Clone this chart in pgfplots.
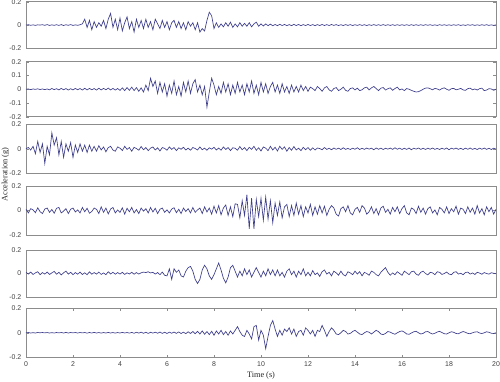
\documentclass[border=0pt]{standalone}
\usepackage{fontspec}
\setmainfont{Liberation Serif}
\setsansfont{Liberation Sans}
\usepackage{pgfplots}
\usepackage{pgfplotstable}
\pgfplotsset{compat=1.18}
\definecolor{sig}{RGB}{62,62,140}
\pgfplotstableread{
t p1 p2 p3 p4 p5 p6
0.0 0 0 0 .01 .01 0
0.1 .003 .002 .01 -.02 -.005 .002
0.2 -.002 -.003 -.01 .015 .012 -.002
0.3 .002 .002 .02 .005 -.008 .001
0.4 -.003 -.001 -.04 -.018 .005 -.002
0.5 .002 .003 .06 .022 .015 .002
0.6 0 -.002 -.03 -.01 -.01 0
0.7 .003 .002 .04 -.025 .008 .002
0.8 -.002 -.003 -.12 .012 -.005 -.001
0.9 .004 .002 .02 .02 .012 .002
1.0 -.003 -.004 -.05 -.015 -.008 -.002
1.1 .002 .005 .13 .008 .005 .001
1.2 -.002 -.003 .03 -.022 .018 -.002
1.3 .003 .004 .09 .018 -.006 .002
1.4 -.003 -.005 -.05 .025 .01 -.001
1.5 .004 .006 .06 -.02 -.012 .002
1.6 -.004 -.004 -.07 -.005 .006 -.002
1.7 .003 .005 .04 .015 .02 .003
1.8 -.002 -.006 -.02 -.025 -.005 -.002
1.9 .004 .004 .05 .01 .01 .002
2.0 -.003 -.005 -.07 .02 -.01 -.001
2.1 .002 .006 .03 -.012 .008 .002
2.2 -.002 -.004 -.03 .005 -.006 -.002
2.3 .003 .005 .04 -.02 .012 .002
2.4 .01 -.006 -.02 .025 -.008 -.001
2.5 .05 .007 .03 -.01 .006 .002
2.6 -.02 -.005 -.03 .018 -.01 -.003
2.7 .04 .006 .03 -.022 .014 .002
2.8 -.04 -.004 -.02 -.008 -.006 -.002
2.9 .03 .005 .02 .02 .008 .003
3.0 -.02 -.006 -.02 .01 -.005 -.002
3.1 .02 .007 .025 -.025 .012 .002
3.2 -.01 -.005 -.01 .03 -.008 -.003
3.3 .04 .006 .015 -.015 .005 .002
3.4 -.03 -.004 -.025 .02 -.01 -.002
3.5 .05 .008 .01 -.028 .015 .003
3.6 .1 -.005 .02 .012 -.004 -.002
3.7 -.02 .006 -.01 .025 .01 .002
3.8 .05 -.006 -.02 -.02 -.006 -.003
3.9 -.04 .005 .015 .005 .008 .002
4.0 .06 -.008 .005 -.015 -.005 -.002
4.1 -.05 .01 -.015 .022 .01 .003
4.2 .02 -.01 .02 -.03 -.008 -.002
4.3 .07 .012 -.005 .018 .006 .002
4.4 -.03 -.008 .01 -.01 -.004 -.003
4.5 .03 .015 -.02 .025 .01 .003
4.6 -.06 -.01 .012 -.02 -.006 -.004
4.7 .05 .012 .002 .008 .008 .004
4.8 -.02 -.015 -.012 -.025 -.005 -.003
4.9 .04 .01 .018 .02 .006 .005
5.0 -.03 -.02 -.008 -.005 .012 -.004
5.1 .05 .03 .01 .015 .008 .004
5.2 -.02 -.01 -.015 -.02 .015 -.005
5.3 .03 .08 .005 .025 .005 .004
5.4 -.04 .02 .015 -.012 .01 -.003
5.5 .05 .06 -.01 .018 -.005 .005
5.6 .01 -.03 .008 -.025 .008 -.004
5.7 -.03 .05 -.018 .01 -.01 .006
5.8 .04 -.02 .01 .02 .012 -.005
5.9 -.02 .04 .003 -.015 -.015 .004
6.0 .03 -.05 -.012 .005 -.02 -.006
6.1 -.04 .03 .015 -.02 .04 .005
6.2 .02 -.03 -.005 .012 -.05 -.004
6.3 .04 .06 .01 .022 .04 .006
6.4 -.02 -.04 -.015 -.018 .01 -.005
6.5 .03 .02 .008 .01 .03 .007
6.6 -.03 -.05 -.004 -.025 -.02 -.006
6.7 .02 .05 .012 .02 -.03 .005
6.8 -.04 -.02 -.01 -.008 .02 -.007
6.9 .03 .06 .005 .015 .05 .008
7.0 -.01 -.03 -.012 -.02 .06 -.006
7.1 .02 .04 .01 .025 .02 .01
7.2 -.04 .07 .002 -.015 -.05 -.008
7.3 .02 -.02 -.01 .005 -.085 .012
7.4 -.06 .03 .015 .02 -.05 -.01
7.5 -.03 -.04 -.008 -.025 .03 .015
7.6 -.05 .02 .005 .03 .07 -.012
7.7 .04 -.13 -.012 -.012 .04 .01
7.8 .11 -.02 .008 .02 -.02 -.015
7.9 .08 .08 -.003 -.03 -.05 .012
8.0 -.03 .03 .012 .035 -.01 -.02
8.1 .02 -.04 -.01 -.02 .04 .015
8.2 -.02 .02 .006 .04 .09 -.01
8.3 .01 -.03 -.012 -.035 .03 .02
8.4 -.015 .05 .015 .02 -.04 -.015
8.5 .02 -.02 -.006 .045 -.08 .01
8.6 -.01 .04 .01 -.04 -.03 -.02
8.7 .025 -.04 -.015 .03 .05 .015
8.8 -.02 .03 .008 -.05 .07 -.01
8.9 .01 -.03 .004 .055 .02 .02
9.0 -.015 .05 -.012 .05 -.03 .05
9.1 .02 -.02 .018 -.06 .02 .01
9.2 -.01 .03 -.008 .08 -.02 -.02
9.3 .015 -.04 .01 -.04 .04 -.03
9.4 -.01 .04 -.015 .13 -.01 .02
9.5 .02 -.02 .012 -.15 .03 -.01
9.6 -.015 .06 -.005 .1 -.03 -.05
9.7 .01 -.03 .02 -.15 .01 .05
9.8 .025 .03 -.012 .09 .05 .06
9.9 -.01 -.04 .008 -.05 .01 -.06
10.0 .01 .05 -.018 .1 -.03 .02
10.1 -.008 -.02 .015 -.08 .02 -.02
10.2 .01 .04 .005 .11 -.02 -.13
10.3 -.005 -.03 -.015 -.07 .04 -.03
10.4 .008 .02 .02 .08 -.01 .06
10.5 -.006 .05 -.01 -.1 .03 .1
10.6 .005 -.02 .012 .06 -.02 .03
10.7 -.005 .03 -.018 -.04 .03 -.03
10.8 .006 -.03 .02 .07 -.02 .02
10.9 -.004 .04 -.005 -.06 .01 -.02
11.0 .005 -.02 .015 .03 -.03 .03
11.1 -.005 .02 -.02 .05 .02 .01
11.2 .004 -.03 .01 -.05 .04 .04
11.3 -.005 .03 -.012 .04 -.01 -.01
11.4 .006 -.02 .018 -.04 .02 .03
11.5 -.004 .02 -.01 .06 -.03 -.03
11.6 .005 -.02 .005 -.03 .02 .01
11.7 -.005 .03 -.015 .04 -.01 .02
11.8 .004 -.01 .012 -.05 .04 -.02
11.9 -.004 .02 -.008 .03 -.02 .04
12.0 .005 -.015 .01 -.02 .01 .02
12.1 -.004 .015 -.012 .05 -.02 -.01
12.2 .004 .005 .008 -.04 .025 .02
12.3 -.005 -.01 -.01 .03 -.01 -.03
12.4 .004 .02 .006 -.03 .005 .02
12.5 -.004 .005 .002 .04 -.025 .01
12.6 .005 -.015 -.008 -.02 .015 .06
12.7 -.004 .01 .01 .035 .03 .02
12.8 .004 .02 -.005 -.04 -.005 -.03
12.9 -.004 -.005 .004 .01 .01 .01
13.0 .005 -.015 -.008 .04 -.02 .04
13.1 -.003 .005 .006 .02 .02 .02
13.2 .004 .012 -.004 -.03 .005 -.01
13.3 -.004 -.01 .005 -.045 -.015 -.015
13.4 .003 0 -.006 .015 .02 0
13.5 -.004 .015 .008 .03 -.01 .02
13.6 .004 -.008 -.005 -.01 -.02 .01
13.7 -.003 -.015 .003 .04 .015 -.01
13.8 .004 .005 -.006 -.02 .005 -.005
13.9 -.004 .01 .005 -.035 -.01 .01
14.0 .003 -.005 -.004 .01 .02 .02
14.1 -.003 .008 .008 .025 -.005 .005
14.2 .004 -.01 -.006 -.015 .015 -.01
14.3 -.003 -.004 .004 .04 -.02 -.015
14.4 .003 .01 -.005 .02 .01 0
14.5 -.004 .015 .006 -.03 0 .01
14.6 .003 -.005 -.003 -.01 -.015 .005
14.7 -.003 .01 .005 .03 .02 -.01
14.8 .004 .02 -.008 -.025 .01 .005
14.9 -.003 .005 .006 .015 -.01 .02
15.0 .003 -.01 -.004 -.035 -.02 .01
15.1 -.003 .008 .005 .02 .01 -.01
15.2 .004 .012 -.006 .035 .03 -.015
15.3 -.003 -.006 .004 -.015 .05 -.005
15.4 .003 .004 -.003 .01 .01 .01
15.5 -.003 .01 .006 -.03 -.015 .005
15.6 .003 -.008 -.005 .025 .005 -.005
15.7 -.003 .005 .008 -.01 -.01 -.012
15.8 .003 .015 -.004 .03 .015 0
15.9 -.003 -.005 .005 -.025 0 .01
16.0 .003 .002 -.006 .015 -.015 .015
16.1 -.003 -.01 .004 .04 .02 .005
16.2 .003 .005 -.005 -.02 .005 -.01
16.3 -.003 0 .006 -.035 -.01 -.012
16.4 .003 -.008 -.008 .02 .015 -.002
16.5 -.003 -.015 .005 .01 .02 .008
16.6 .003 -.02 -.003 -.025 -.005 .012
16.7 -.003 -.018 .006 .035 -.015 0
16.8 .003 -.01 -.005 -.015 .01 -.01
16.9 -.003 0 .004 .02 .02 -.005
17.0 .003 .008 -.006 -.03 0 .008
17.1 -.002 .01 .005 .015 -.012 .01
17.2 .003 .004 -.004 .03 .01 -.002
17.3 -.003 -.004 .006 -.02 .005 -.01
17.4 .002 .006 -.005 .005 -.01 -.004
17.5 -.003 .002 .003 -.035 .015 .006
17.6 .003 -.006 -.006 .025 .01 .012
17.7 -.002 .005 .005 .01 -.008 .002
17.8 .003 .01 -.004 -.02 0 -.008
17.9 -.003 0 .006 .03 .012 -.01
18.0 .002 -.008 -.008 -.025 -.005 0
18.1 -.003 .004 .005 .015 -.01 .008
18.2 .003 .006 -.003 -.01 .01 .004
18.3 -.002 -.004 .006 .035 .015 -.006
18.4 .003 0 -.005 -.03 -.005 -.008
18.5 -.003 .006 .004 .02 .002 .002
18.6 .002 -.005 -.006 .01 -.01 .01
18.7 -.003 -.008 .005 -.025 .008 .004
18.8 .003 .004 -.004 .03 .012 -.005
18.9 -.002 .008 .006 -.015 -.005 -.008
19.0 .003 -.004 -.005 .02 .005 0
19.1 -.003 .002 .003 -.03 -.008 .006
19.2 .002 -.006 -.006 .04 .01 .008
19.3 -.003 .004 .005 -.02 .004 -.002
19.4 .003 .008 -.004 .015 -.006 -.006
19.5 -.002 -.01 .006 -.035 .008 0
19.6 .003 -.006 -.005 .03 0 .008
19.7 -.003 .004 .004 -.01 -.005 .004
19.8 .002 .002 -.006 .025 .006 -.004
19.9 -.003 -.008 .005 -.03 .002 -.006
20.0 .002 0 -.003 .01 -.002 0
}\datatable
\pgfplotsset{
  panel/.style={
    width=352.5pt, scale only axis,
    xmin=0, xmax=20, ymin=-0.2, ymax=0.2,
    axis line style={black!45}, tick style={black!45},
    xtick=\empty,
    ytick={-0.2,0,0.2}, yticklabels={-0.2,0,0.2},
    tick label style={font=\sffamily\fontsize{5.2}{6}\selectfont, text=black!75},
    major tick length=2pt, tick align=inside,
    anchor=north west,
  },
  sigline/.style={color=sig, line width=0.5pt, mark=none},
}
\begin{document}
\begin{tikzpicture}
\useasboundingbox (0,0) rectangle (375pt,-286.5pt);
\begin{axis}[panel, at={(19.5pt,-1.3pt)}, height=35pt]
\addplot[sigline] table[x=t,y=p1] {\datatable};
\end{axis}
\begin{axis}[panel, at={(19.5pt,-46.3pt)}, height=41.25pt,
  ytick={-0.2,-0.1,0,0.1,0.2}, yticklabels={-0.2,-0.1,0,0.1,0.2}]
\addplot[sigline] table[x=t,y=p2] {\datatable};
\end{axis}
\begin{axis}[panel, at={(19.5pt,-93.2pt)}, height=36.75pt]
\addplot[sigline] table[x=t,y=p3] {\datatable};
\end{axis}
\begin{axis}[panel, at={(19.5pt,-139.5pt)}, height=36.75pt]
\addplot[sigline] table[x=t,y=p4] {\datatable};
\end{axis}
\begin{axis}[panel, at={(19.5pt,-187.5pt)}, height=35.25pt]
\addplot[sigline] table[x=t,y=p5] {\datatable};
\end{axis}
\begin{axis}[panel, at={(19.5pt,-231.2pt)}, height=36.75pt,
  xtick={0,2,...,20}, xticklabels={0,2,4,6,8,10,12,14,16,18,20},
  xtick pos=both,
  xlabel={Time (s)},
  xlabel style={font=\rmfamily\fontsize{6.2}{7}\selectfont, text=black!85, yshift=3pt}]
\addplot[sigline] table[x=t,y=p6] {\datatable};
\end{axis}
\node[rotate=90, font=\rmfamily\fontsize{6.2}{7}\selectfont, text=black!85] at (4pt,-131pt) {Acceleration (g)};
\end{tikzpicture}
\end{document}
